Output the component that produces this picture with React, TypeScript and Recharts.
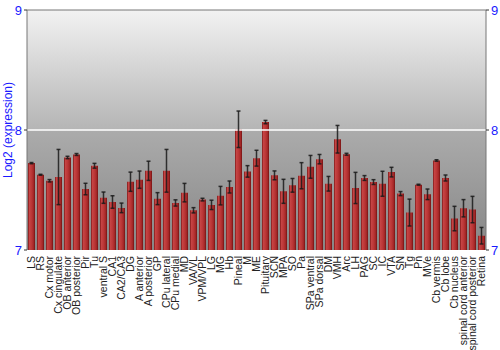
import { Bar, BarChart, CartesianGrid, ErrorBar, ReferenceLine, XAxis, YAxis } from "recharts";

const regions = [
  "LS", "RS", "Cx motor", "Cx cingulate", "OB anterior", "OB posterior", "Pir", "Tu",
  "ventral S", "CA1", "CA2/CA3", "DG", "A anterior", "A posterior", "GP", "CPu lateral",
  "CPu medial", "MD", "VA/VL", "VPM/VPL", "LG", "MG", "Hb", "Pineal", "M", "ME",
  "Pituitary", "SCN", "MPA", "SO", "Pa", "SPa ventral", "SPa dorsal", "DM", "VMH", "Arc",
  "LH", "PAG", "SC", "IC", "VTA", "SN", "Tg", "Pn", "MVe", "Cb vermis", "Cb lobe",
  "Cb nucleus", "spinal cord anterior", "spinal cord posterior", "Retina",
];

const expression = [
  7.724, 7.627, 7.577, 7.608, 7.771, 7.796, 7.508, 7.702,
  7.436, 7.400, 7.351, 7.569, 7.586, 7.660, 7.428, 7.660,
  7.392, 7.478, 7.331, 7.420, 7.376, 7.453, 7.525, 8.006, 7.655, 7.765,
  8.066, 7.622, 7.489, 7.539, 7.619, 7.693, 7.757, 7.552, 7.923, 7.798,
  7.517, 7.600, 7.566, 7.552, 7.649, 7.470, 7.312, 7.544, 7.464, 7.746, 7.600,
  7.262, 7.348, 7.337, 7.119,
];

const spread = [
  0.005, 0.004, 0.01, 0.23, 0.01, 0.008, 0.048, 0.02,
  0.047, 0.052, 0.04, 0.08, 0.072, 0.08, 0.05, 0.178,
  0.026, 0.077, 0.022, 0.011, 0.039, 0.077, 0.05, 0.152, 0.048, 0.066,
  0.014, 0.037, 0.1, 0.057, 0.109, 0.095, 0.039, 0.061, 0.115, 0.008,
  0.13, 0.02, 0.02, 0.104, 0.04, 0.017, 0.112, 0.004, 0.044, 0.006, 0.025,
  0.102, 0.072, 0.11, 0.069,
];

const yTicks = [7, 8, 9];

const rows = regions.map((name, i) => ({ name, value: expression[i], err: spread[i] }));

const FONT = "'Liberation Sans', Arial, sans-serif";

function RegionTick(props: any) {
  const { x, y, payload } = props;
  return (
    <text
      transform={`rotate(-90, ${x}, ${y})`}
      x={x}
      y={y}
      dy="0.35em"
      textAnchor="end"
      fontSize={10.5}
      fontFamily={FONT}
      fill="#222"
    >
      {payload.value}
    </text>
  );
}

export default function App() {
  return (
    <div style={{ position: "absolute", left: 0, top: 0, width: 500, height: 350, background: "#fff" }}>
      <BarChart
        width={500}
        height={350}
        data={rows}
        margin={{ top: 10, right: 0, left: 0, bottom: 0 }}
        barSize={7}
      >
        <defs>
          <linearGradient id="bgGrad" x1="0" y1="0" x2="0" y2="1">
            <stop offset="0%" stopColor="#f2f2f2" />
            <stop offset="49.5%" stopColor="#b5b5b5" />
            <stop offset="50.5%" stopColor="#ababab" />
            <stop offset="100%" stopColor="#878787" />
          </linearGradient>
          <linearGradient id="barGrad" x1="0" y1="0" x2="1" y2="0">
            <stop offset="0%" stopColor="#7a1616" />
            <stop offset="20%" stopColor="#c64444" />
            <stop offset="55%" stopColor="#b93535" />
            <stop offset="85%" stopColor="#9e2424" />
            <stop offset="100%" stopColor="#6e1010" />
          </linearGradient>
        </defs>
        <CartesianGrid horizontal={false} vertical={false} fill="url(#bgGrad)" fillOpacity={1} />
        <XAxis
          dataKey="name"
          interval={0}
          height={100}
          axisLine={false}
          tickLine={false}
          tick={<RegionTick />}
          tickMargin={0}
        />
        <YAxis
          yAxisId="l"
          type="number"
          domain={[7, 9]}
          ticks={yTicks}
          width={27}
          tickSize={3}
          axisLine={{ stroke: "#777" }}
          tickLine={{ stroke: "#333" }}
          tick={{ fill: "#1a1aff", fontSize: 13, fontFamily: FONT }}
          allowDataOverflow
          label={{
            value: "Log2 (expression)",
            angle: -90,
            position: "insideLeft",
            offset: 8,
            fill: "#1a1aff",
            fontSize: 12,
            fontFamily: FONT,
            style: { textAnchor: "middle" },
          }}
        />
        <YAxis
          yAxisId="r"
          orientation="right"
          type="number"
          domain={[7, 9]}
          ticks={yTicks}
          width={14}
          tickSize={3}
          axisLine={{ stroke: "#777" }}
          tickLine={{ stroke: "#333" }}
          tick={{ fill: "#1a1aff", fontSize: 13, fontFamily: FONT }}
          allowDataOverflow
        />
        <ReferenceLine yAxisId="l" y={8} stroke="#ffffff" strokeWidth={1.5} />
        <ReferenceLine yAxisId="l" y={9} stroke="#777" strokeWidth={1} />
        <Bar yAxisId="l" dataKey="value" fill="url(#barGrad)" isAnimationActive={false}>
          <ErrorBar dataKey="err" width={2} stroke="#1a1a1a" strokeOpacity={0.85} strokeWidth={1.5} />
        </Bar>
      </BarChart>
    </div>
  );
}
